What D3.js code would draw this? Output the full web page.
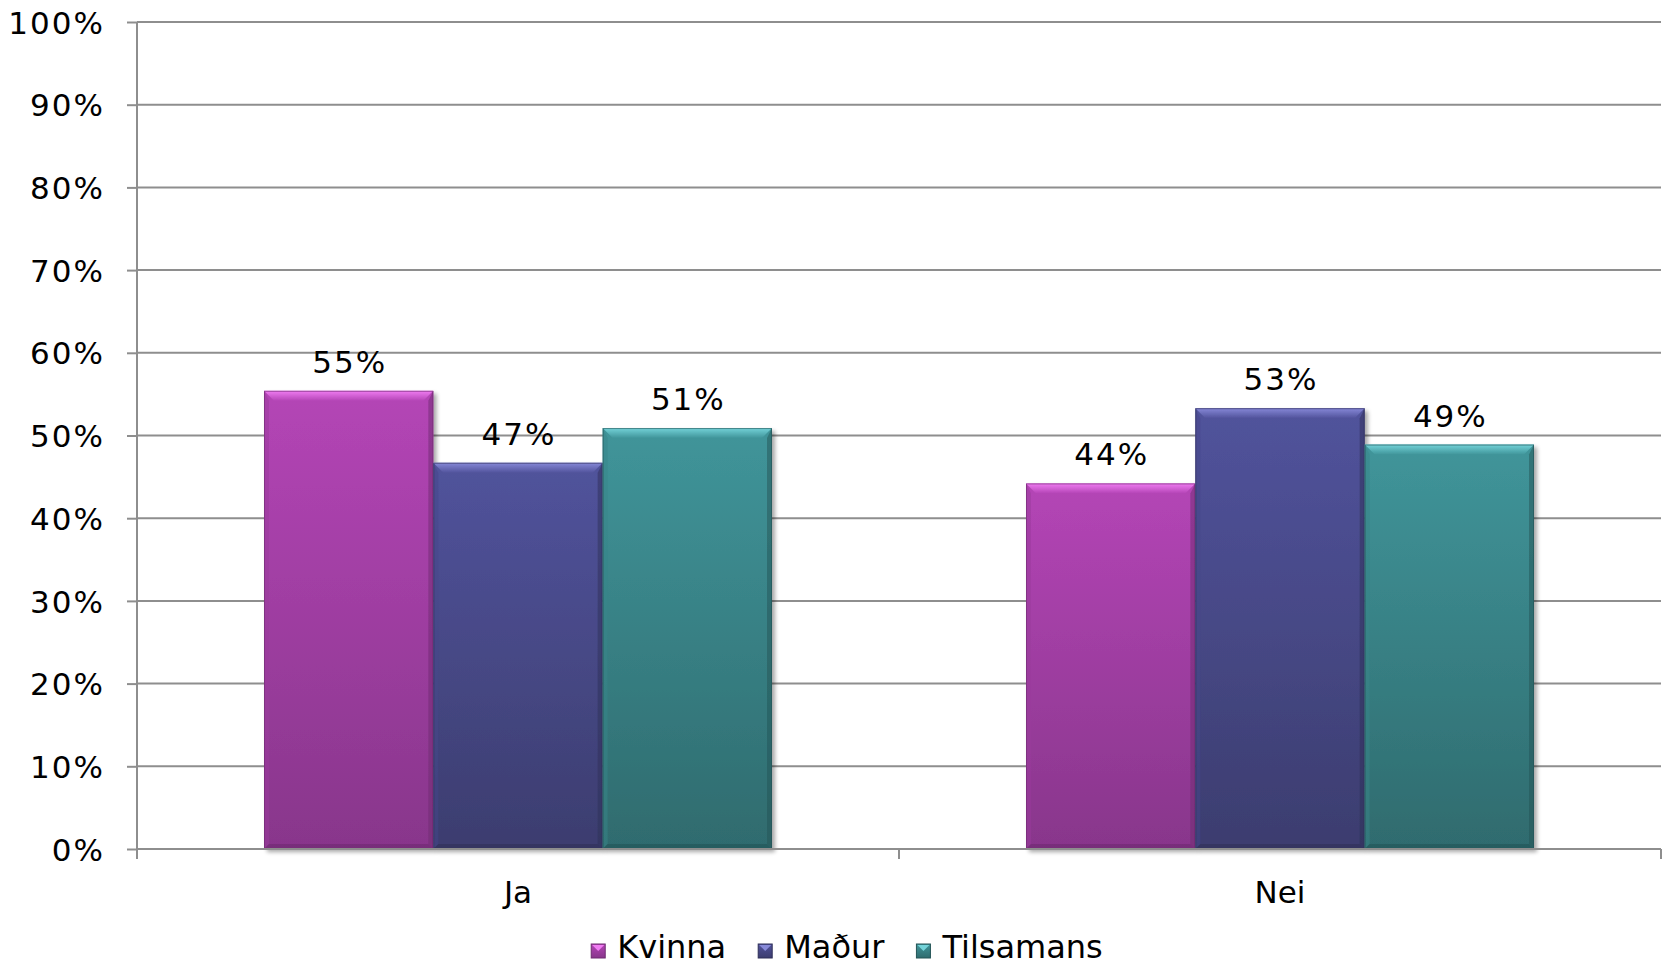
<!DOCTYPE html>
<html>
<head>
<meta charset="utf-8">
<script src="https://cdn.jsdelivr.net/npm/d3@7/dist/d3.min.js"></script>
<style>
html,body{margin:0;padding:0;background:#fff;}
svg{display:block;}
text{font-family:"DejaVu Sans",Verdana,sans-serif;fill:#000;}
</style>
</head>
<body>
<svg id="chart" width="1665" height="967"></svg>
<script>
const categories = ["Ja", "Nei"];
const seriesNames = ["Kvinna", "Maður", "Tilsamans"];
const kvinna = [55.4, 44.2];
const madur = [46.7, 53.3];
const tilsamans = [50.9, 48.9];
const dataLabels = [["55%", "44%"], ["47%", "53%"], ["51%", "49%"]];
const yTicks = [0, 10, 20, 30, 40, 50, 60, 70, 80, 90, 100];
const yTickLabels = ["0%", "10%", "20%", "30%", "40%", "50%", "60%", "70%", "80%", "90%", "100%"];

const seriesValues = [kvinna, madur, tilsamans];
const palette = [
  {top:"#b445b6", bottom:"#88368b", hi:"#f07cf2", side:"#9a3a9c", dark:"#6e2a70"},
  {top:"#51539c", bottom:"#3c3d6f", hi:"#8789d8", side:"#45468a", dark:"#2e2f58"},
  {top:"#40959a", bottom:"#2f6b6e", hi:"#74d3d9", side:"#38868a", dark:"#245456"}
];

const W = 1665, H = 967;
const m = {left:137, right:4, top:22, bottom:118};
const pw = W - m.left - m.right, ph = H - m.top - m.bottom;
const fs = 31, ls = 2;

const svg = d3.select("#chart");
const defs = svg.append("defs");
palette.forEach((p, i) => {
  const g = defs.append("linearGradient").attr("id", "grad" + i)
    .attr("x1", 0).attr("y1", 0).attr("x2", 0).attr("y2", 1);
  g.append("stop").attr("offset", "0%").attr("stop-color", p.top);
  g.append("stop").attr("offset", "100%").attr("stop-color", p.bottom);
  const h = defs.append("linearGradient").attr("id", "hi" + i)
    .attr("x1", 0).attr("y1", 0).attr("x2", 0).attr("y2", 1);
  h.append("stop").attr("offset", "0%").attr("stop-color", p.hi);
  h.append("stop").attr("offset", "100%").attr("stop-color", p.top);
});
const shadow = defs.append("filter").attr("id", "shadow").attr("x", "-10%").attr("y", "-10%").attr("width", "130%").attr("height", "130%");
shadow.append("feGaussianBlur").attr("in", "SourceAlpha").attr("stdDeviation", 2).attr("result", "b");
shadow.append("feOffset").attr("in", "b").attr("dx", 3).attr("dy", 3).attr("result", "o");
shadow.append("feComponentTransfer").attr("in", "o").attr("result", "s")
  .append("feFuncA").attr("type", "linear").attr("slope", 0.35);
const mg = shadow.append("feMerge");
mg.append("feMergeNode").attr("in", "s");
mg.append("feMergeNode").attr("in", "SourceGraphic");

const g = svg.append("g").attr("transform", `translate(${m.left},${m.top})`);

const y = d3.scaleLinear().domain([0, 100]).range([ph, 0]);
const x0 = d3.scaleBand().domain(categories).range([0, pw]).paddingInner(0).paddingOuter(0);
const bw = x0.bandwidth() / 4.5;
const x1 = d3.scaleBand().domain(seriesNames).range([bw * 0.75, x0.bandwidth() - bw * 0.75]).padding(0);

// gridlines
g.append("g").selectAll("line").data(yTicks.filter(d => d > 0)).join("line")
  .attr("x1", 0).attr("x2", pw).attr("y1", d => y(d)).attr("y2", d => y(d))
  .attr("stroke", "#8e8e8e").attr("stroke-width", 2);

// y axis
const yAxis = d3.axisLeft(y).tickValues(yTicks).tickFormat((d, i) => yTickLabels[i]).tickSize(10).tickPadding(22);
const ya = g.append("g").call(yAxis);
ya.select(".domain").attr("stroke", "#8e8e8e").attr("stroke-width", 2).attr("d", `M0,${ph+10}V0`);
ya.selectAll(".tick line").attr("stroke", "#8e8e8e").attr("stroke-width", 2);
ya.selectAll(".tick text").attr("font-size", fs).attr("font-family", '"DejaVu Sans",Verdana,sans-serif')
  .attr("fill", "#000").attr("dy", "0.36em").attr("letter-spacing", ls);

// bars
const bevel = 10;
seriesNames.forEach((s, si) => {
  const p = palette[si];
  categories.forEach((c, ci) => {
    const v = seriesValues[si][ci];
    const bx = x0(c) + x1(s), by = y(v), bwid = x1.bandwidth(), bh = ph - y(v);
    const bg = g.append("g").attr("filter", "url(#shadow)");
    bg.append("rect").attr("x", bx).attr("y", by).attr("width", bwid).attr("height", bh).attr("fill", `url(#grad${si})`);
    bg.append("path").attr("d", `M${bx},${by}H${bx+bwid}L${bx+bwid-bevel},${by+bevel}H${bx+bevel}Z`).attr("fill", `url(#hi${si})`);
    bg.append("path").attr("d", `M${bx},${by}L${bx+bevel*0.5},${by+bevel}V${by+bh-bevel*0.5}L${bx},${by+bh}Z`).attr("fill", p.side).attr("opacity", 0.5);
    bg.append("path").attr("d", `M${bx+bwid},${by}L${bx+bwid-bevel*0.5},${by+bevel}V${by+bh-bevel*0.5}L${bx+bwid},${by+bh}Z`).attr("fill", p.dark).attr("opacity", 0.5);
    bg.append("path").attr("d", `M${bx},${by+bh}L${bx+bevel*0.5},${by+bh-bevel*0.5}H${bx+bwid-bevel*0.5}L${bx+bwid},${by+bh}Z`).attr("fill", p.dark).attr("opacity", 0.6);
    bg.append("rect").attr("x", bx+0.5).attr("y", by+0.5).attr("width", bwid-1).attr("height", bh-1).attr("fill", "none").attr("stroke", p.dark).attr("stroke-opacity", 0.6);
    g.append("text").attr("x", bx + bwid / 2 + ls / 2).attr("y", by - 18).attr("text-anchor", "middle")
      .attr("font-size", fs).attr("letter-spacing", ls).text(dataLabels[si][ci]);
  });
});

// x axis
const xa = g.append("g").attr("transform", `translate(0,${ph})`);
xa.append("line").attr("x1", 0).attr("x2", pw).attr("stroke", "#8e8e8e").attr("stroke-width", 2);
const bounds = [0, ...categories.map(c => x0(c) + x0.bandwidth())];
xa.selectAll("line.t").data(bounds).join("line").attr("class", "t")
  .attr("x1", d => d).attr("x2", d => d).attr("y1", 0).attr("y2", 10).attr("stroke", "#8e8e8e").attr("stroke-width", 2);
xa.selectAll("text").data(categories).join("text")
  .attr("x", d => x0(d) + x0.bandwidth() / 2).attr("y", 54).attr("text-anchor", "middle").attr("font-size", fs).text(d => d);

// legend
const lfs = 32;
const baseY = 958;
const lg = svg.append("g");
const items = lg.selectAll("g").data(seriesNames).join("g");
items.append("text").attr("font-size", lfs).attr("y", baseY).text(d => d);
const sq = 14, gapT = 12, gapI = 32;
let widths = [];
items.select("text").each(function(){ widths.push(this.getComputedTextLength()); });
const total = d3.sum(widths) + seriesNames.length * (sq + gapT) + (seriesNames.length - 1) * gapI;
let cx = 847 - total / 2;
items.each(function(d, i){
  const it = d3.select(this);
  const p = palette[i];
  const sy = baseY - sq;
  it.insert("rect", "text").attr("x", cx).attr("y", sy).attr("width", sq).attr("height", sq).attr("fill", `url(#grad${i})`).attr("stroke", p.dark).attr("stroke-width", 1);
  it.insert("path", "text").attr("d", `M${cx+1},${sy+1}H${cx+sq-1}L${cx+sq/2},${sy+sq/2}Z`).attr("fill", p.hi);
  it.select("text").attr("x", cx + sq + gapT);
  cx += sq + gapT + widths[i] + gapI;
});
</script>
</body>
</html>
